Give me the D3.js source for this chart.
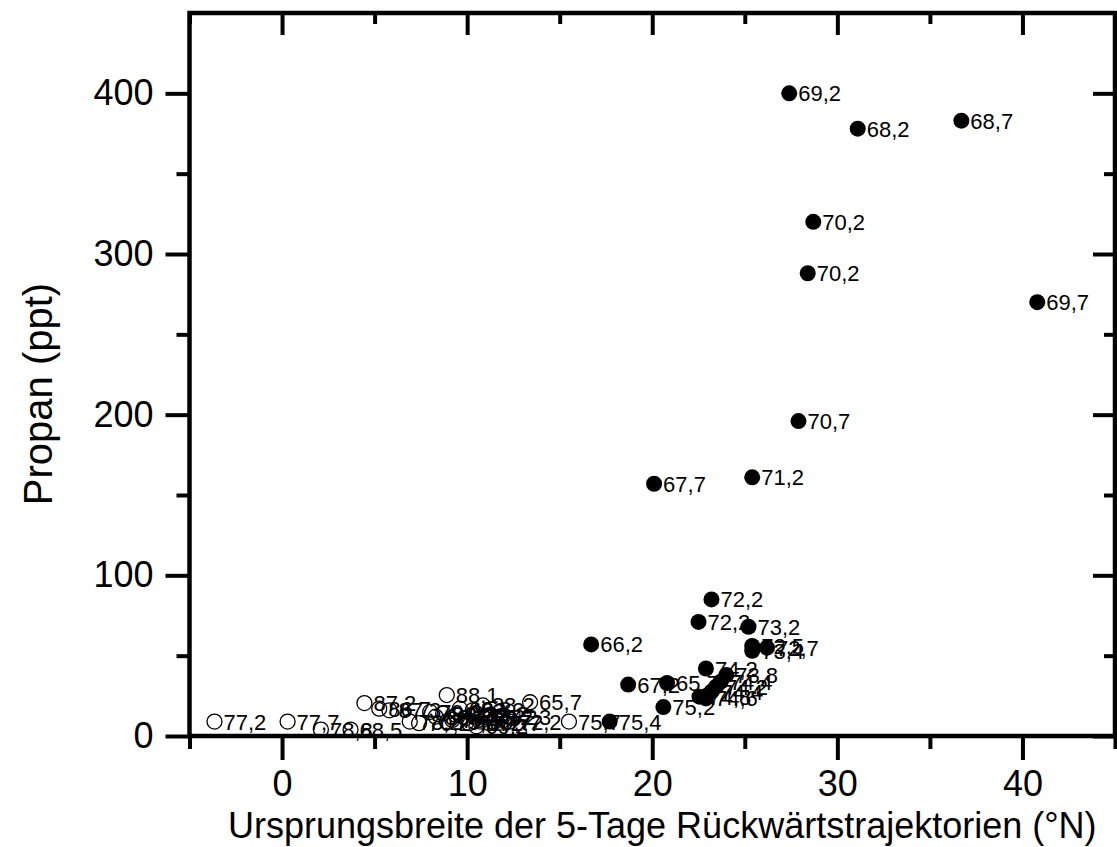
<!DOCTYPE html>
<html>
<head>
<meta charset="utf-8">
<script src="https://cdn.jsdelivr.net/npm/d3@7"></script>
<style>
  html, body { margin: 0; padding: 0; background: #fff; }
  svg { display: block; font-family: "Liberation Sans", Arial, sans-serif; }
</style>
</head>
<body>
<div id="chart"></div>
<script>
// filled points: latitude, propane, label
const filledX = [27.4, 31.1, 36.7, 28.7, 28.4, 40.8, 27.9, 20.1, 25.4, 23.2, 22.5, 25.2,
    25.4, 25.4, 26.2, 16.7, 22.9, 18.7, 20.8, 20.6, 17.7,
    22.55, 22.9, 23.2, 23.45, 23.7, 24.0];
const filledY = [400, 378, 383, 320, 288, 270, 196, 157, 161, 85, 71, 68,
    56, 53, 55, 57, 42, 32, 33, 18, 9,
    24.5, 23.4, 27.6, 30.7, 33.8, 37.9];
const filledLabels = ['69,2', '68,2', '68,7', '70,2', '70,2', '69,7', '70,7', '67,7', '71,2', '72,2', '72,2', '73,2',
    '72,5', '73,4', '72,7', '66,2', '74,2', '67,2', '65,7', '75,2', '75,4',
    '74,8', '74,6', '74,4', '74,2', '74,4', '73,8'];

// open points
const openX = [-3.65, 0.3, 2.1, 3.7, 4.45, 5.25, 5.8, 6.9, 7.4, 8.0, 8.7, 8.9, 9.2, 9.6,
    10.1, 10.5, 10.5, 10.85, 11.2, 11.75, 12.3, 13.4, 15.5,
    8.3, 8.9, 9.4, 9.9, 10.3, 10.7, 11.0];
const openY = [9, 9, 4, 4, 20.5, 17, 16, 9, 8, 15, 14, 25.5, 10, 17,
    8, 14, 6, 19, 8, 12, 9, 21, 9,
    12, 9, 13, 11, 16, 9, 12];
const openLabels = ['77,2', '77,7', '78,8', '68,5', '87,2', '86,7', '87,3', '78,2', '70,2', '79,3', '80,2', '88,1', '70,7', '69,8',
    '71,7', '82,2', '69,2', '88,2', '72,7', '72,3', '72,2', '65,7', '75,7',
    '80,7', '79,8', '81,2', '70,8', '83,3', '69,7', '71,2'];

const xTicks = [0, 10, 20, 30, 40];
const xMinor = [-5, 5, 15, 25, 35, 45];
const yTicks = [0, 100, 200, 300, 400];
const yMinor = [50, 150, 250, 350];

const W = 1117, H = 847;
const mLeft = 189.5, mRight = 1115, mTop = 13, mBottom = 736;

const x = d3.scaleLinear().domain([-5, 45]).range([mLeft, mRight]);
const y = d3.scaleLinear().domain([0, 450]).range([mBottom, mTop]);

const svg = d3.select('#chart').append('svg')
    .attr('width', W)
    .attr('height', H);

function styleAxis(g, fontSize) {
    g.select('.domain').remove();
    g.selectAll('.tick line').attr('stroke', '#000').attr('stroke-width', 4);
    g.selectAll('.tick text').attr('fill', '#000')
        .style('font-size', fontSize + 'px')
        .style('font-family', '"Liberation Sans", Arial, sans-serif');
}

// bottom
svg.append('g').attr('transform', `translate(0,${mBottom})`)
    .call(d3.axisBottom(x).tickValues(xTicks).tickSize(24).tickPadding(10).tickFormat(d3.format('d')))
    .call(g => styleAxis(g, 36));
svg.append('g').attr('transform', `translate(0,${mBottom})`)
    .call(d3.axisBottom(x).tickValues(xMinor).tickSize(13).tickFormat(''))
    .call(g => styleAxis(g, 36));
// top (inward)
svg.append('g').attr('transform', `translate(0,${mTop})`)
    .call(d3.axisBottom(x).tickValues(xTicks).tickSize(22).tickFormat(''))
    .call(g => styleAxis(g, 36));
svg.append('g').attr('transform', `translate(0,${mTop})`)
    .call(d3.axisBottom(x).tickValues(xMinor).tickSize(11).tickFormat(''))
    .call(g => styleAxis(g, 36));
// left
svg.append('g').attr('transform', `translate(${mLeft},0)`)
    .call(d3.axisLeft(y).tickValues(yTicks).tickSize(24).tickPadding(12).tickFormat(d3.format('d')))
    .call(g => styleAxis(g, 36));
svg.append('g').attr('transform', `translate(${mLeft},0)`)
    .call(d3.axisLeft(y).tickValues(yMinor).tickSize(13).tickFormat(''))
    .call(g => styleAxis(g, 36));
// right (inward)
svg.append('g').attr('transform', `translate(${mRight},0)`)
    .call(d3.axisLeft(y).tickValues(yTicks).tickSize(22).tickFormat(''))
    .call(g => styleAxis(g, 36));
svg.append('g').attr('transform', `translate(${mRight},0)`)
    .call(d3.axisLeft(y).tickValues(yMinor).tickSize(11).tickFormat(''))
    .call(g => styleAxis(g, 36));

// frame
svg.append('rect')
    .attr('x', mLeft).attr('y', mTop)
    .attr('width', mRight - mLeft).attr('height', mBottom - mTop)
    .attr('fill', 'none').attr('stroke', '#000').attr('stroke-width', 4.5);

// points
const openData = openX.map((v, i) => ({ x: v, y: openY[i], label: openLabels[i] }));
const filledData = filledX.map((v, i) => ({ x: v, y: filledY[i], label: filledLabels[i] }));

const pts = svg.append('g');
pts.selectAll('circle.open').data(openData).enter()
    .append('circle').attr('class', 'open')
    .attr('cx', d => x(d.x)).attr('cy', d => y(d.y)).attr('r', 7.5)
    .attr('fill', 'none').attr('stroke', '#000').attr('stroke-width', 1.3);
pts.selectAll('circle.filled').data(filledData).enter()
    .append('circle').attr('class', 'filled')
    .attr('cx', d => x(d.x)).attr('cy', d => y(d.y)).attr('r', 8)
    .attr('fill', '#000');

const labels = svg.append('g')
    .style('font-size', '22px')
    .attr('fill', '#000');
labels.selectAll('text').data(openData.concat(filledData)).enter()
    .append('text')
    .attr('x', d => x(d.x) + 9)
    .attr('y', d => y(d.y) + 8)
    .text(d => d.label);

// axis titles
svg.append('text')
    .attr('x', (mLeft + mRight) / 2 + 10)
    .attr('y', 838)
    .attr('text-anchor', 'middle')
    .style('font-size', '36px')
    .text('Ursprungsbreite der 5-Tage Rückwärtstrajektorien (°N)');

svg.append('text')
    .attr('transform', 'translate(52,394) rotate(-90)')
    .attr('text-anchor', 'middle')
    .style('font-size', '40px')
    .text('Propan (ppt)');
</script>
</body>
</html>
